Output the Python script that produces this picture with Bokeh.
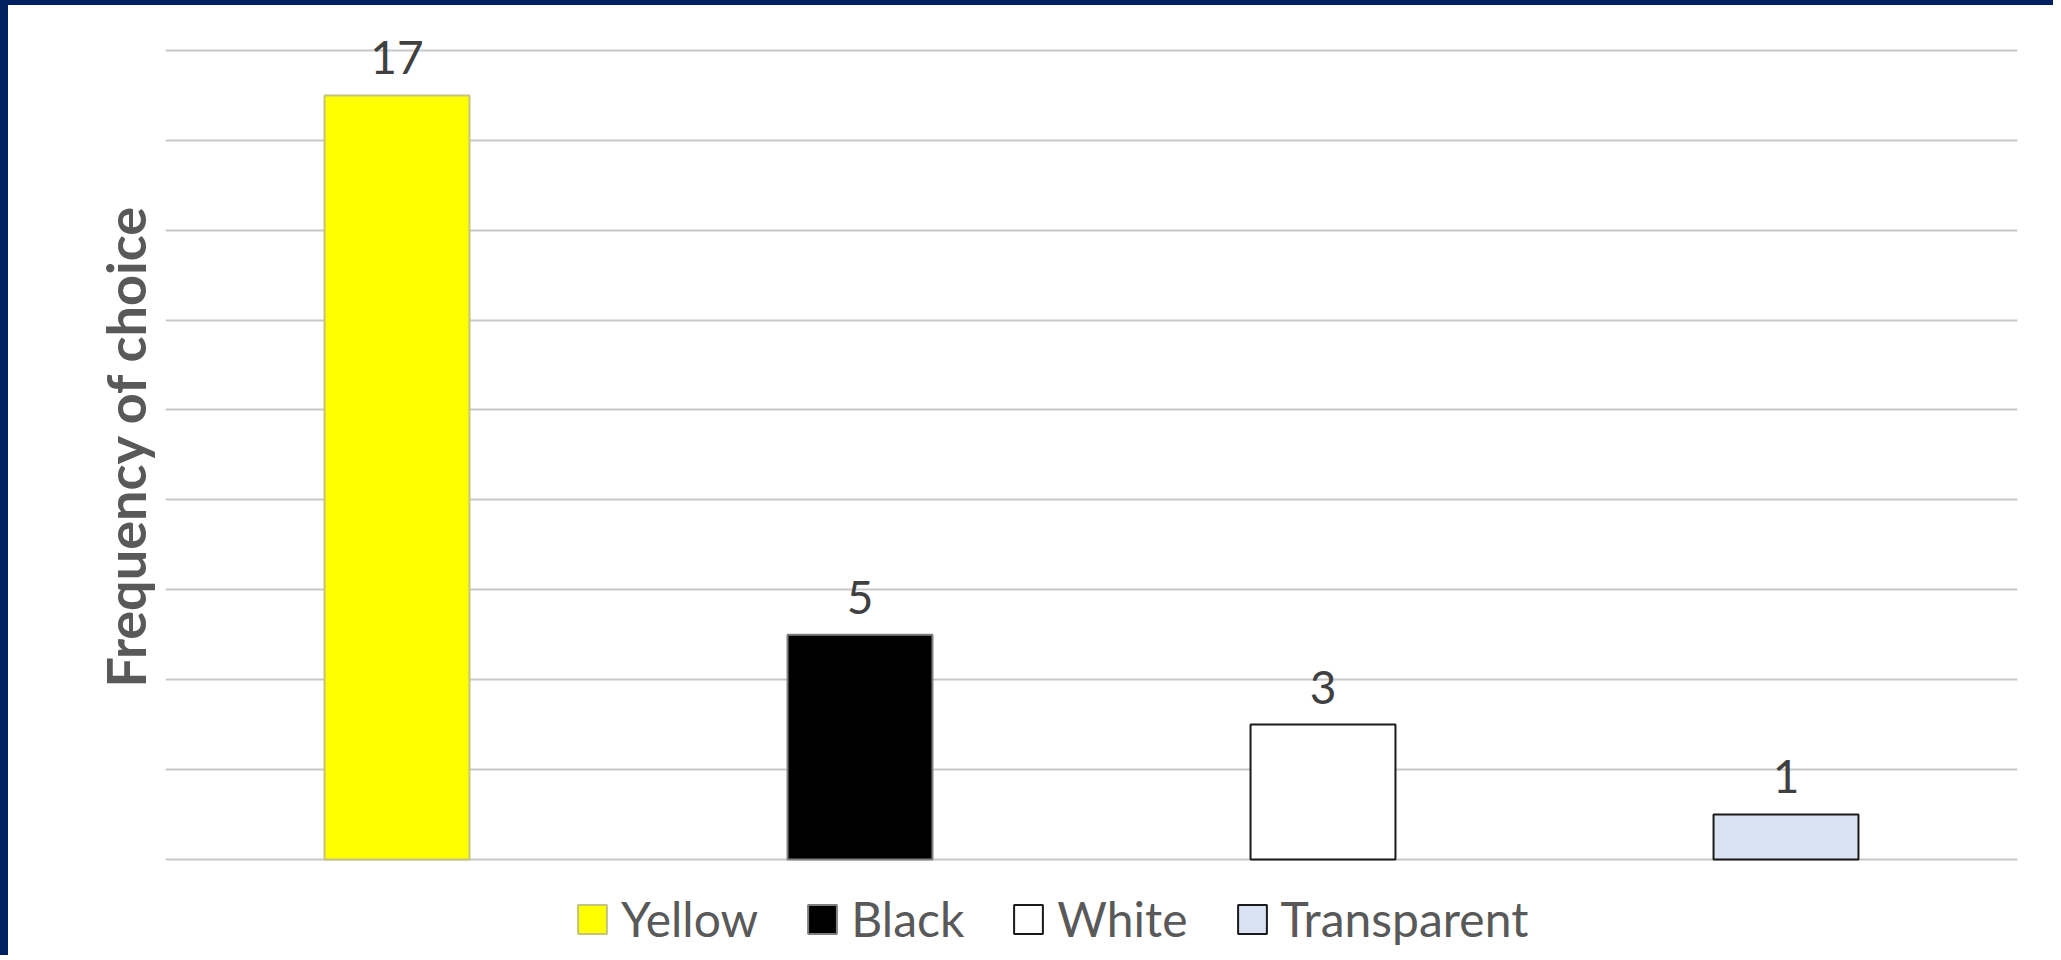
from bokeh.plotting import figure
from bokeh.models import (FactorRange, Range1d, ColumnDataSource, LabelSet,
                          FixedTicker, Title)
from bokeh.core.properties import value
from bokeh.embed import file_html
from bokeh.resources import INLINE

categories = ["Yellow", "Black", "White", "Transparent"]
counts = [17, 5, 3, 1]
fill_colors = ["#ffff00", "#000000", "#ffffff", "#dae3f3"]
line_colors = ["#c4c47a", "#7f7f7f", "#1a1a1a", "#1a1a1a"]
y_axis_title = "Frequency of choice"
y_max = 18
y_step = 2
grid_values = list(range(0, y_max + 1, y_step))

source = ColumnDataSource(dict(cat=categories, val=counts, fill=fill_colors,
                               line=line_colors, lab=[str(c) for c in counts]))

# frame reaches below the zero line so that the legend can sit inside it
p = figure(width=2053, height=955, x_range=FactorRange(*categories),
           y_range=Range1d(-2.25, y_max + 1), output_backend="svg",
           toolbar_location=None,
           min_border_left=157, min_border_right=44, min_border_top=0,
           min_border_bottom=0)
p.styles = {"border-top": "5px solid #002060", "border-left": "8px solid #002060"}
p.outline_line_color = None
p.background_fill_color = "white"
p.border_fill_color = "white"

r = p.vbar(x="cat", top="val", bottom=0, width=0.313, source=source,
           fill_color="fill", line_color="line", line_width=2,
           legend_field="cat")

labels = LabelSet(x="cat", y="val", text="lab", source=source, y_offset=21,
                  text_align="center", text_baseline="alphabetic",
                  text_font=value("Lato"), text_font_size="46px",
                  text_color="#404040")
p.add_layout(labels)

p.xaxis.visible = False
p.yaxis.visible = False
p.xgrid.visible = False
p.ygrid.ticker = FixedTicker(ticks=grid_values)
p.ygrid.grid_line_color = "#c8c8c8"
p.ygrid.grid_line_width = 2

t = Title(text=y_axis_title, align="left", offset=273, standoff=16,
          text_font="Lato", text_font_style="bold", text_font_size="54px",
          text_color="#595959")
p.add_layout(t, "left")

leg = p.legend[0]
leg.location = (409, 13)
leg.orientation = "horizontal"
leg.padding = 0
leg.margin = 0
leg.spacing = 46
leg.label_standoff = 11
leg.glyph_width = 36
leg.glyph_height = 36
leg.label_text_font = "Lato"
leg.label_text_font_size = "48px"
leg.label_text_color = "#595959"
leg.border_line_color = None
leg.background_fill_alpha = 0

open("out.html", "w").write(file_html(p, INLINE))
